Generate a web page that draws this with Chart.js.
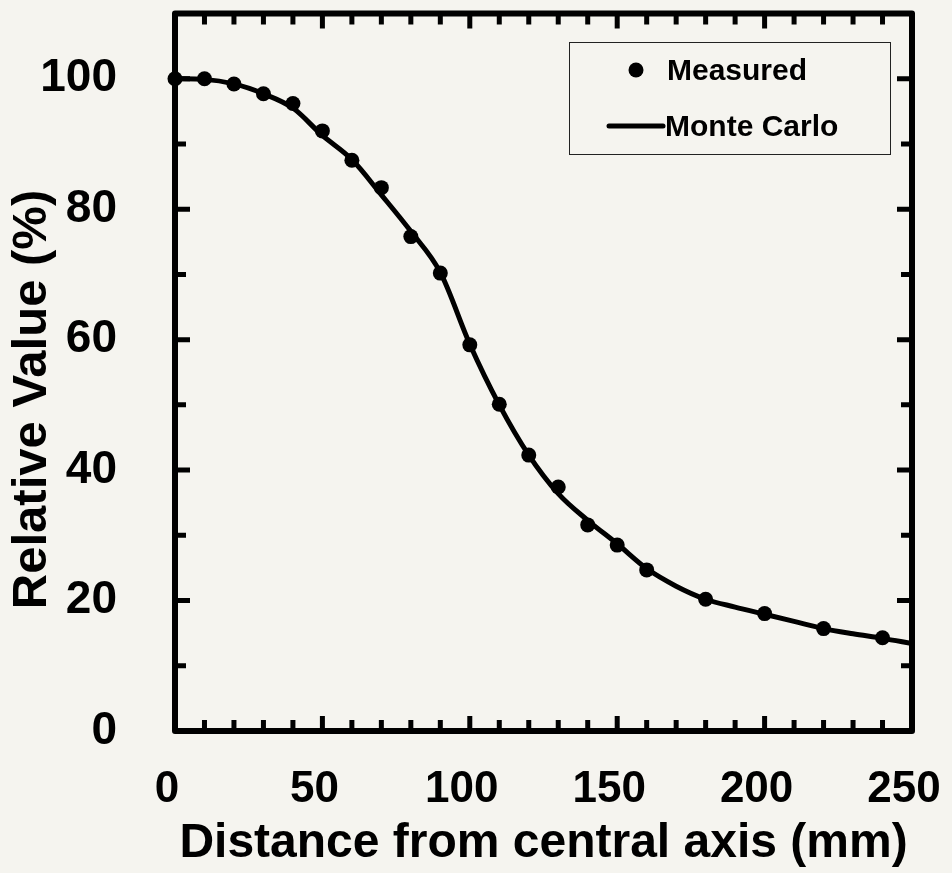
<!DOCTYPE html>
<html>
<head>
<meta charset="utf-8">
<script src="https://cdn.jsdelivr.net/npm/chart.js@4.4.1/dist/chart.umd.min.js"></script>
<style>
  html, body { margin: 0; padding: 0; background: #f5f4ef; }
  #wrap { width: 952px; height: 873px; position: relative; }
</style>
</head>
<body>
<div id="wrap"><canvas id="myChart"></canvas></div>
<script>
// measured points
const measuredX = [0, 10, 20, 30, 40, 50, 60, 70, 80, 90, 100, 110, 120, 130, 140, 150, 160, 180, 200, 220, 240];
const measuredY = [100, 100, 99.2, 97.7, 96.2, 92.0, 87.5, 83.3, 75.8, 70.2, 59.2, 50.1, 42.3, 37.4, 31.6, 28.5, 24.7, 20.2, 18.0, 15.7, 14.3];

// monte carlo curve
const mcX = [0, 10, 20, 30, 40, 50, 60, 70, 80, 90, 100, 110, 120, 130, 140, 150, 160, 170, 180, 190, 200, 210, 220, 230, 240, 250];
const mcY = [100, 99.9, 99.2, 97.7, 95.5, 91.3, 87.6, 82.2, 76.6, 70.3, 59.3, 50.0, 42.3, 36.4, 32.3, 28.7, 24.9, 22.2, 20.2, 19.0, 17.9, 16.8, 15.7, 14.9, 14.2, 13.4];

const xTickLabels = [0, 50, 100, 150, 200, 250];
const yTickLabels = [0, 20, 40, 60, 80, 100];

const FONT = '"Liberation Sans", Arial, sans-serif';

const bgPlugin = {
    id: 'bg',
    beforeDraw(chart) {
        const ctx = chart.ctx;
        ctx.save();
        ctx.fillStyle = '#f5f4ef';
        ctx.fillRect(0, 0, chart.width, chart.height);
        ctx.restore();
    }
};

// box with inward ticks on all four sides
const framePlugin = {
    id: 'frame',
    beforeDatasetsDraw(chart) {
        const {ctx, chartArea: a, scales} = chart;
        const xs = scales.x, ys = scales.y;
        ctx.save();
        ctx.strokeStyle = '#000';
        ctx.lineCap = 'butt';
        ctx.lineWidth = 5;
        for (let v = 10; v < 250; v += 10) {
            const px = xs.getPixelForValue(v);
            const len = v % 50 === 0 ? 15 : 11;
            ctx.beginPath();
            ctx.moveTo(px, a.bottom); ctx.lineTo(px, a.bottom - len);
            ctx.moveTo(px, a.top); ctx.lineTo(px, a.top + len);
            ctx.stroke();
        }
        for (let v = 10; v < 110; v += 10) {
            const py = ys.getPixelForValue(v);
            const len = v % 20 === 0 ? 15 : 11;
            ctx.beginPath();
            ctx.moveTo(a.left, py); ctx.lineTo(a.left + len, py);
            ctx.moveTo(a.right, py); ctx.lineTo(a.right - len, py);
            ctx.stroke();
        }
        ctx.lineWidth = 6;
        ctx.lineJoin = 'round';
        ctx.strokeRect(a.left, a.top, a.right - a.left, a.bottom - a.top);
        ctx.restore();
    }
};

// boxed legend in the top right corner
const legendBox = {
    id: 'legendBox',
    afterDraw(chart) {
        const ctx = chart.ctx;
        const ds = chart.data.datasets;
        ctx.save();
        ctx.strokeStyle = '#222';
        ctx.lineWidth = 1;
        ctx.strokeRect(569.5, 42.5, 321, 112);
        ctx.fillStyle = '#000';
        ctx.beginPath();
        ctx.arc(636, 70, ds[0].pointRadius, 0, Math.PI * 2);
        ctx.fill();
        ctx.strokeStyle = '#000';
        ctx.lineWidth = ds[1].borderWidth;
        ctx.lineCap = 'round';
        ctx.beginPath();
        ctx.moveTo(609, 126); ctx.lineTo(663, 126);
        ctx.stroke();
        ctx.font = 'bold 30px ' + FONT;
        ctx.textBaseline = 'alphabetic';
        ctx.textAlign = 'left';
        ctx.fillText(ds[0].label, 667, 80);
        ctx.fillText(ds[1].label, 665, 136);
        ctx.restore();
    }
};

function noPad(s) {
    s.paddingTop = 0; s.paddingBottom = 0;
    s.paddingLeft = 0; s.paddingRight = 0;
}

new Chart(document.getElementById('myChart'), {
    type: 'scatter',
    data: {
        datasets: [
            {
                label: 'Measured',
                data: measuredX.map((x, i) => ({x: x, y: measuredY[i]})),
                showLine: false,
                pointRadius: 7.5,
                pointHoverRadius: 7.5,
                backgroundColor: '#000',
                borderColor: '#000',
                borderWidth: 0,
                clip: false,
                order: 0
            },
            {
                label: 'Monte Carlo',
                data: mcX.map((x, i) => ({x: x, y: mcY[i]})),
                showLine: true,
                pointRadius: 0,
                borderColor: '#000',
                borderWidth: 5,
                cubicInterpolationMode: 'monotone',
                order: 1
            }
        ]
    },
    options: {
        responsive: true,
        maintainAspectRatio: false,
        animation: false,
        layout: { padding: { top: 13.5, right: 40, left: 0, bottom: 0 } },
        scales: {
            x: {
                type: 'linear',
                min: 0,
                max: 250,
                grid: { display: false, drawTicks: false },
                border: { display: false },
                afterBuildTicks: s => { s.ticks = xTickLabels.map(v => ({value: v})); },
                afterFit: s => { s.height = 142; noPad(s); },
                ticks: {
                    color: '#000',
                    font: { family: FONT, size: 44, weight: 'bold' },
                    padding: 32,
                    labelOffset: -8,
                    maxRotation: 0
                },
                title: {
                    display: true,
                    text: 'Distance from central axis (mm)',
                    color: '#000',
                    font: { family: FONT, size: 48, weight: 'bold' },
                    padding: { top: 0, bottom: 0 }
                }
            },
            y: {
                min: 0,
                max: 110,
                grid: { display: false, drawTicks: false },
                border: { display: false },
                afterBuildTicks: s => { s.ticks = yTickLabels.map(v => ({value: v})); },
                afterFit: s => { s.width = 175; noPad(s); },
                ticks: {
                    color: '#000',
                    font: { family: FONT, size: 46, weight: 'bold' },
                    padding: 58
                },
                title: {
                    display: true,
                    text: 'Relative Value (%)    ',
                    color: '#000',
                    font: { family: FONT, size: 49, weight: 'bold' },
                    padding: { top: 3, bottom: 0 }
                }
            }
        },
        plugins: {
            legend: { display: false },
            tooltip: { enabled: false }
        }
    },
    plugins: [bgPlugin, framePlugin, legendBox]
});
</script>
</body>
</html>
